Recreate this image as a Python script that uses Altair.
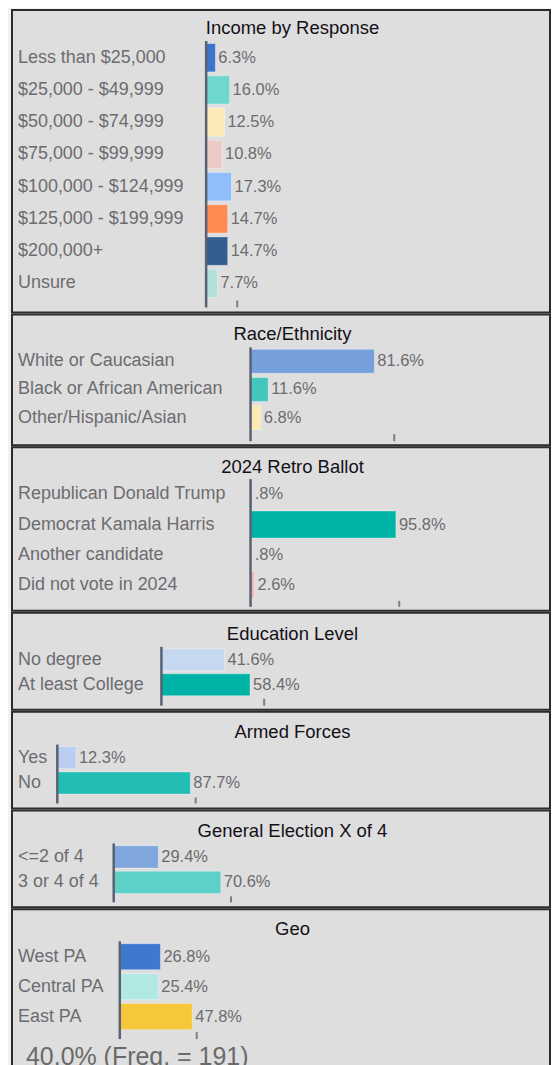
import altair as alt
import pandas as pd

FONT = "Liberation Sans"
GREY = "#6c6c70"
AXIS = "#5a6272"
TICKC = "#7b7f86"

# ---------------- data ----------------
income_title = "Income by Response"
income_cats = ["Less than $25,000", "$25,000 - $49,999", "$50,000 - $74,999",
               "$75,000 - $99,999", "$100,000 - $124,999", "$125,000 - $199,999",
               "$200,000+", "Unsure"]
income_vals = [6.3, 16.0, 12.5, 10.8, 17.3, 14.7, 14.7, 7.7]
income_colors = ["#3b74c9", "#6fd7cd", "#fbe9b8", "#ebc9c5", "#8fbefb", "#ff8a52",
                 "#335e8e", "#b2e0da"]

race_title = "Race/Ethnicity"
race_cats = ["White or Caucasian", "Black or African American", "Other/Hispanic/Asian"]
race_vals = [81.6, 11.6, 6.8]
race_colors = ["#76a0dc", "#43c7bd", "#fbe8b2"]

ballot_title = "2024 Retro Ballot"
ballot_cats = ["Republican Donald Trump", "Democrat Kamala Harris", "Another candidate",
               "Did not vote in 2024"]
ballot_vals = [0.8, 95.8, 0.8, 2.6]
ballot_colors = ["#6f93d6", "#00b3a7", "#fbe8b2", "#efb9b9"]

edu_title = "Education Level"
edu_cats = ["No degree", "At least College"]
edu_vals = [41.6, 58.4]
edu_colors = ["#c6d8f0", "#00b3a7"]

armed_title = "Armed Forces"
armed_cats = ["Yes", "No"]
armed_vals = [12.3, 87.7]
armed_colors = ["#b9cef1", "#22bdb3"]

gen_title = "General Election X of 4"
gen_cats = ["<=2 of 4", "3 or 4 of 4"]
gen_vals = [29.4, 70.6]
gen_colors = ["#7fa7de", "#5dd1c7"]

geo_title = "Geo"
geo_cats = ["West PA", "Central PA", "East PA"]
geo_vals = [26.8, 25.4, 47.8]
geo_colors = ["#3d79ce", "#b2e8e4", "#f5c83b"]

# decorative small tick at the bottom of each panel (in % units)
tick_vals = [21.2, 94.7, 98.0, 67.7, 91.2, 77.3, 50.7]

footer_text = "40.0% (Freq. = 191)"

# ---------------- layout (pixels) ----------------
W = 539
layouts = [
    dict(h=303, c0=47.8, step=32.3, pi=0.12, axis=(31, 298), tick=(291, 298), x0=194.5, ppp=1.47, ty=24.5),
    dict(h=131, c0=47.0, step=28.2, pi=0.15, axis=(33, 127), tick=(120, 127), x0=239.0, ppp=1.52, ty=26),
    dict(h=164, c0=47.3, step=30.2, pi=0.10, axis=(32, 160), tick=(154, 160), x0=239.0, ppp=1.52, ty=26),
    dict(h=97, c0=47.0, step=25.0, pi=0.12, axis=(34, 93), tick=(86, 93), x0=149.7, ppp=1.52, ty=27),
    dict(h=97, c0=46.0, step=25.5, pi=0.13, axis=(33, 92), tick=(86, 92), x0=45.4, ppp=1.52, ty=26),
    dict(h=97, c0=46.5, step=25.5, pi=0.12, axis=(33, 92), tick=(86, 92), x0=101.9, ppp=1.52, ty=26.5),
    dict(h=158, c0=47.5, step=30.0, pi=0.13, axis=(32, 130), tick=(123, 130), x0=108.0, ppp=1.52, ty=26),
]

specs = [
    (income_title, income_cats, income_vals, income_colors),
    (race_title, race_cats, race_vals, race_colors),
    (ballot_title, ballot_cats, ballot_vals, ballot_colors),
    (edu_title, edu_cats, edu_vals, edu_colors),
    (armed_title, armed_cats, armed_vals, armed_colors),
    (gen_title, gen_cats, gen_vals, gen_colors),
    (geo_title, geo_cats, geo_vals, geo_colors),
]


def fmt(v):
    s = f"{v:.1f}%"
    if s.startswith("0."):
        s = s[1:]
    return s


def make_panel(i):
    title, cats, vals, colors = specs[i]
    lay = layouts[i]
    df = pd.DataFrame({"cat": cats, "value": vals, "label": [fmt(v) for v in vals]})
    n = len(cats)
    r0 = lay["c0"] - lay["step"] / 2
    r1 = r0 + n * lay["step"]
    xs = alt.Scale(domain=[0, 100], range=[lay["x0"], lay["x0"] + 100 * lay["ppp"]],
                   nice=False, zero=False)
    ys = alt.Scale(domain=cats, range=[r0, r1], paddingInner=lay["pi"],
                   paddingOuter=lay["pi"] / 2)
    base = alt.Chart(df)
    bars = base.mark_bar(stroke="#ffffff", strokeOpacity=0.35, strokeWidth=1).encode(
        x=alt.X("value:Q", scale=xs, axis=None),
        y=alt.Y("cat:N", scale=ys, axis=None),
        color=alt.Color("cat:N", scale=alt.Scale(domain=cats, range=colors), legend=None),
    )
    values = base.mark_text(align="left", baseline="middle", dx=3, font=FONT,
                            fontSize=16.5, color=GREY).encode(
        x=alt.X("value:Q", scale=xs, axis=None),
        y=alt.Y("cat:N", scale=ys, axis=None),
        text="label:N",
    )
    labels = base.mark_text(align="left", baseline="middle", font=FONT,
                            fontSize=18, color=GREY).encode(
        x=alt.value(6),
        y=alt.Y("cat:N", scale=ys, axis=None),
        text="cat:N",
    )
    tdf = pd.DataFrame({"tick": [tick_vals[i]], "zero": [0.0], "title": [title]})
    tbase = alt.Chart(tdf)
    axis_line = tbase.mark_rule(color=AXIS, strokeWidth=2.5).encode(
        x=alt.X("zero:Q", scale=xs, axis=None),
        y=alt.value(lay["axis"][0]),
        y2=alt.value(lay["axis"][1]),
    )
    tick = tbase.mark_rule(color=TICKC, strokeWidth=2).encode(
        x=alt.X("tick:Q", scale=xs, axis=None),
        y=alt.value(lay["tick"][0]),
        y2=alt.value(lay["tick"][1]),
    )
    ttl = tbase.mark_text(align="center", baseline="alphabetic", font=FONT,
                          fontSize=18.5, color="#141018").encode(
        x=alt.value(281),
        y=alt.value(lay["ty"]),
        text="title:N",
    )
    layers = [bars, axis_line, tick, values, labels, ttl]
    if i == len(specs) - 1:
        fdf = pd.DataFrame({"f": [footer_text]})
        foot = alt.Chart(fdf).mark_text(align="left", baseline="alphabetic", font=FONT,
                                        fontSize=25, color="#6a6a6a").encode(
            x=alt.value(14), y=alt.value(156), text="f:N")
        layers.append(foot)
    return alt.layer(*layers).properties(width=W, height=lay["h"])


chart = alt.vconcat(*[make_panel(i) for i in range(len(specs))], spacing=0).resolve_scale(
    x="independent", y="independent", color="independent"
).configure_view(
    fill="#dedede", stroke="#2b2b2b", strokeWidth=2
).properties(
    background="#f2f2f2",
    padding={"left": 3, "top": 0, "right": 0, "bottom": 0},
)

chart.save("out.html", embed_options={"renderer": "svg", "actions": False})
